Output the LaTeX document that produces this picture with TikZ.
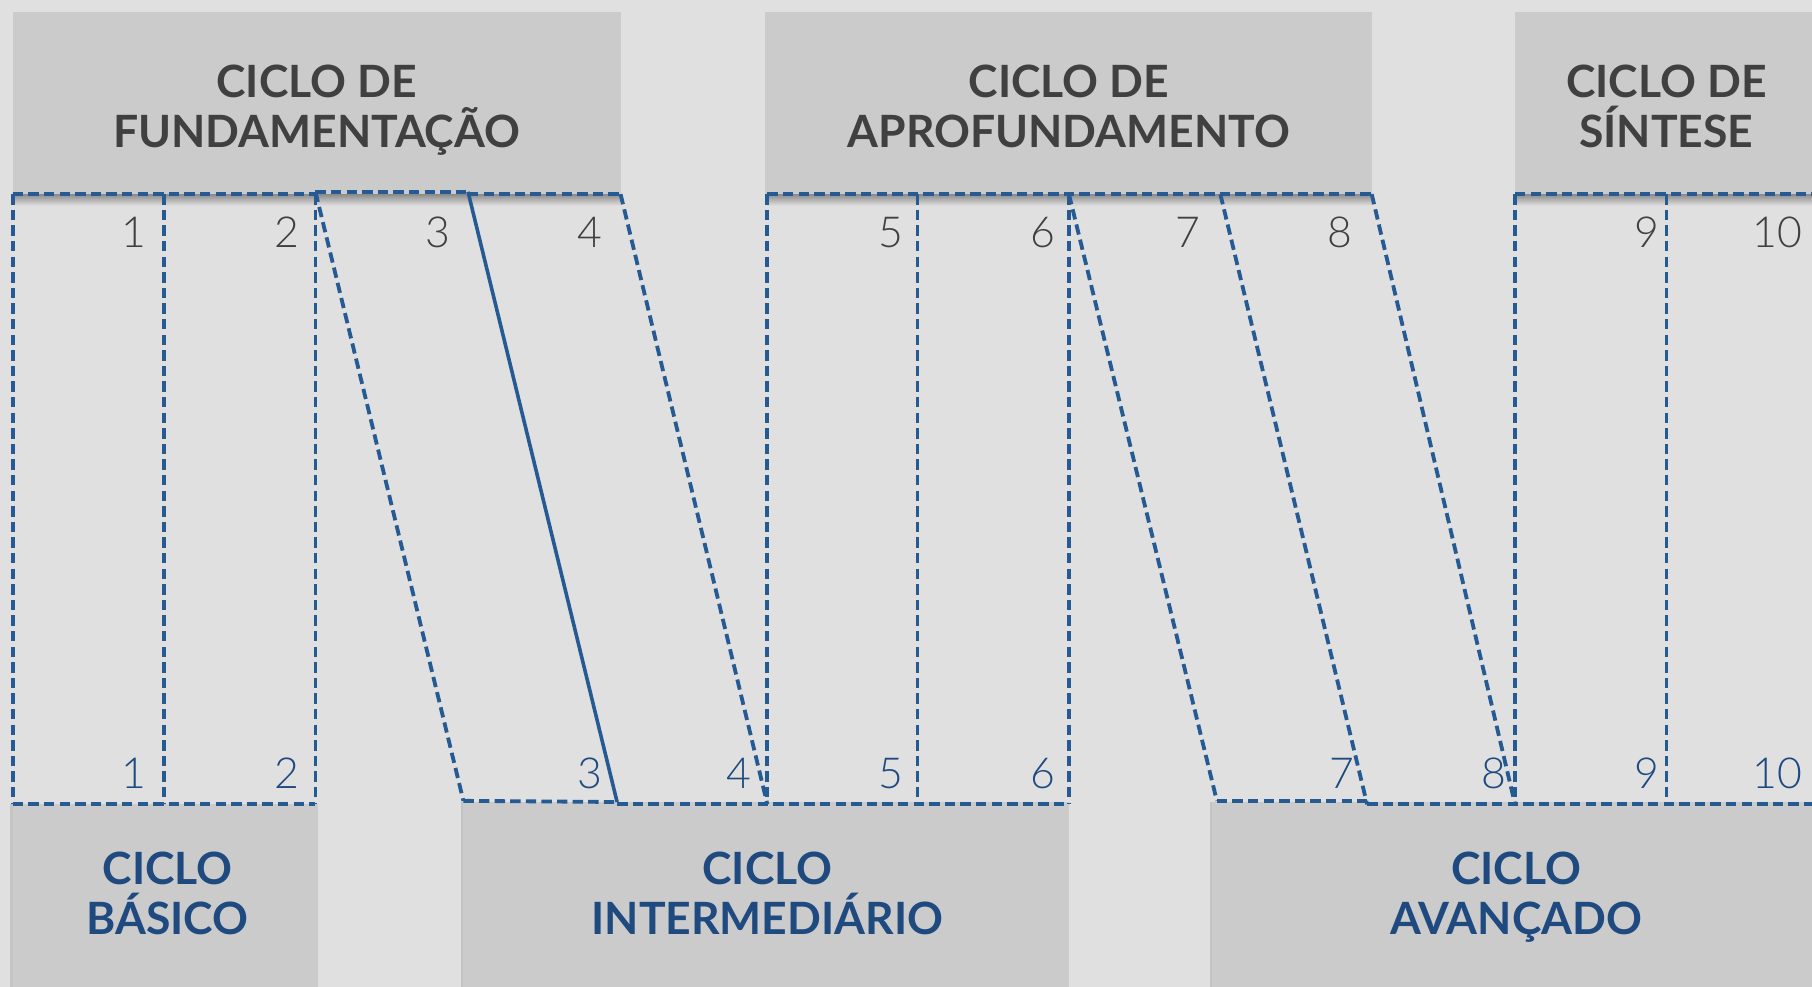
\documentclass[tikz,border=0pt]{standalone}
\usepackage{fontspec}
\setmainfont{Lato}
\newfontfamily\titlefont{Lato}[UprightFont=* Bold]
\newfontfamily\numfont{Lato Light}
\usetikzlibrary{shadows}
\definecolor{bgc}{HTML}{E0E0E0}
\definecolor{boxc}{HTML}{CBCBCB}
\definecolor{darktxt}{HTML}{404040}
\definecolor{bluetxt}{HTML}{1F4A80}
\definecolor{lnc}{HTML}{255A92}
\tikzset{
  topbox/.style={fill=boxc, draw=none},
  topshadow/.style={top color=black!38!bgc, bottom color=bgc, draw=none},
  botbox/.style={fill=boxc, draw=none, drop shadow={shadow xshift=-2pt, shadow yshift=0pt, opacity=0.12, fill=black}},
  toptitle/.style={font=\titlefont\fontsize{38.5}{44}\selectfont, text=darktxt, anchor=base, inner sep=0pt},
  bottitle/.style={font=\titlefont\fontsize{38.5}{44}\selectfont, text=bluetxt, anchor=base, inner sep=0pt},
  topnum/.style={font=\numfont\fontsize{37}{44}\selectfont, text=darktxt, anchor=base east, inner sep=0pt},
  botnum/.style={font=\numfont\fontsize{37}{44}\selectfont, text=bluetxt, anchor=base east, inner sep=0pt},
  dline/.style={draw=lnc, line width=3.3pt, dash pattern=on 9pt off 4.5pt},
  sline/.style={draw=lnc, line width=3.1pt},
}
\begin{document}
\begin{tikzpicture}[x=1pt, y=-1pt]
\useasboundingbox (0,0) rectangle (1568,854);
\clip (0,0) rectangle (1568,854);
\fill[bgc] (0,0) rectangle (1568,854);

% top boxes with soft shadow beneath
\shade[topshadow] (12,168) rectangle (537,178);
\shade[topshadow] (663,168) rectangle (1187,178);
\shade[topshadow] (1312,168) rectangle (1600,178);
\path[topbox] (11,10) rectangle (537,168);
\path[topbox] (662,10) rectangle (1187,168);
\path[topbox] (1311,10) rectangle (1600,168);
% bottom boxes
\path[botbox] (11,696) rectangle (275,900);
\path[botbox] (401,694) rectangle (925,900);
\path[botbox] (1049,694) rectangle (1600,900);

% titles
\node[toptitle] (tA1) at (274,84) {CICLO DE};
\node[toptitle] (tA2) at (274,128) {FUNDAMENTAÇÃO};
\node[toptitle] (tB1) at (925,84) {CICLO DE};
\node[toptitle] (tB2) at (925,128) {APROFUNDAMENTO};
\node[toptitle] (tC1) at (1442,84) {CICLO DE};
\node[toptitle] (tC2) at (1442,128) {SÍNTESE};
\node[bottitle] (bD1) at (145,765) {CICLO};
\node[bottitle] (bD2) at (145,809) {BÁSICO};
\node[bottitle] (bE1) at (664,765) {CICLO};
\node[bottitle] (bE2) at (664,809) {INTERMEDIÁRIO};
\node[bottitle] (bF1) at (1312,765) {CICLO};
\node[bottitle] (bF2) at (1312,809) {AVANÇADO};

% corner coordinates
\coordinate (tA0) at (11,168);
\coordinate (tA1c) at (142,168);
\coordinate (tA2c) at (273,168);
\coordinate (tA2h) at (273,166);
\coordinate (tA3) at (405,166);
\coordinate (tA3l) at (405,168);
\coordinate (tA4) at (537,168);
\coordinate (tB0) at (664,168);
\coordinate (tB1c) at (794,168);
\coordinate (tB2c) at (925,168);
\coordinate (tB3) at (1056,168);
\coordinate (tB4) at (1187,168);
\coordinate (tC0) at (1311,168);
\coordinate (tC1c) at (1442,168);
\coordinate (tC2c) at (1580,168);
\coordinate (bD0) at (11,696);
\coordinate (bD1c) at (142,696);
\coordinate (bD2c) at (273,696);
\coordinate (bE0) at (401,693);
\coordinate (bE1) at (534,694);
\coordinate (bE1l) at (534,696);
\coordinate (bE2c) at (664,696);
\coordinate (bE3) at (794,696);
\coordinate (bE4) at (925,696);
\coordinate (bF0) at (1053,693);
\coordinate (bF1c) at (1183,693);
\coordinate (bF1l) at (1183,696);
\coordinate (bF2c) at (1311,696);
\coordinate (bF3) at (1442,696);
\coordinate (bF4) at (1580,696);

% horizontals
\draw[dline] (tA0) -- (tA2c);
\draw[dline] (tA2h) -- (tA3);
\draw[dline] (tA3l) -- (tA4);
\draw[dline] (tB0) -- (tB4);
\draw[dline] (tC0) -- (tC2c);
\draw[dline] (bD0) -- (bD2c);
\draw[dline] (bE0) -- (bE1);
\draw[dline] (bE1l) -- (bE4);
\draw[dline] (bF0) -- (bF1c);
\draw[dline] (bF1l) -- (bF4);

% verticals
\draw[dline] (tA0) -- (bD0);
\draw[dline] (tA1c) -- (bD1c);
\draw[dline] (tA2c) -- (bD2c);
\draw[dline] (tB0) -- (bE2c);
\draw[dline] (tB1c) -- (bE3);
\draw[dline] (tB2c) -- (bE4);
\draw[dline] (tC0) -- (bF2c);
\draw[dline] (tC1c) -- (bF3);

% slanted
\draw[dline] (tA2h) -- (bE0);
\draw[sline] (tA3) -- (bE1);
\draw[dline] (tA4) -- (bE2c);
\draw[dline] (tB2c) -- (bF0);
\draw[dline] (tB3) -- (bF1l);
\draw[dline] (tB4) -- (bF2c);

% top numbers
\node[topnum] (n1t) at (127,214) {1};
\node[topnum] (n2t) at (259,214) {2};
\node[topnum] (n3t) at (390,214) {3};
\node[topnum] (n4t) at (521,214) {4};
\node[topnum] (n5t) at (782,214) {5};
\node[topnum] (n6t) at (913,214) {6};
\node[topnum] (n7t) at (1039,214) {7};
\node[topnum] (n8t) at (1170,214) {8};
\node[topnum] (n9t) at (1436,214) {9};
\node[topnum] (n10t) at (1560,214) {10};
% bottom numbers
\node[botnum] (n1b) at (127,682) {1};
\node[botnum] (n2b) at (259,682) {2};
\node[botnum] (n3b) at (521,682) {3};
\node[botnum] (n4b) at (650,682) {4};
\node[botnum] (n5b) at (782,682) {5};
\node[botnum] (n6b) at (913,682) {6};
\node[botnum] (n7b) at (1172,682) {7};
\node[botnum] (n8b) at (1304,682) {8};
\node[botnum] (n9b) at (1436,682) {9};
\node[botnum] (n10b) at (1560,682) {10};
\end{tikzpicture}
\end{document}
